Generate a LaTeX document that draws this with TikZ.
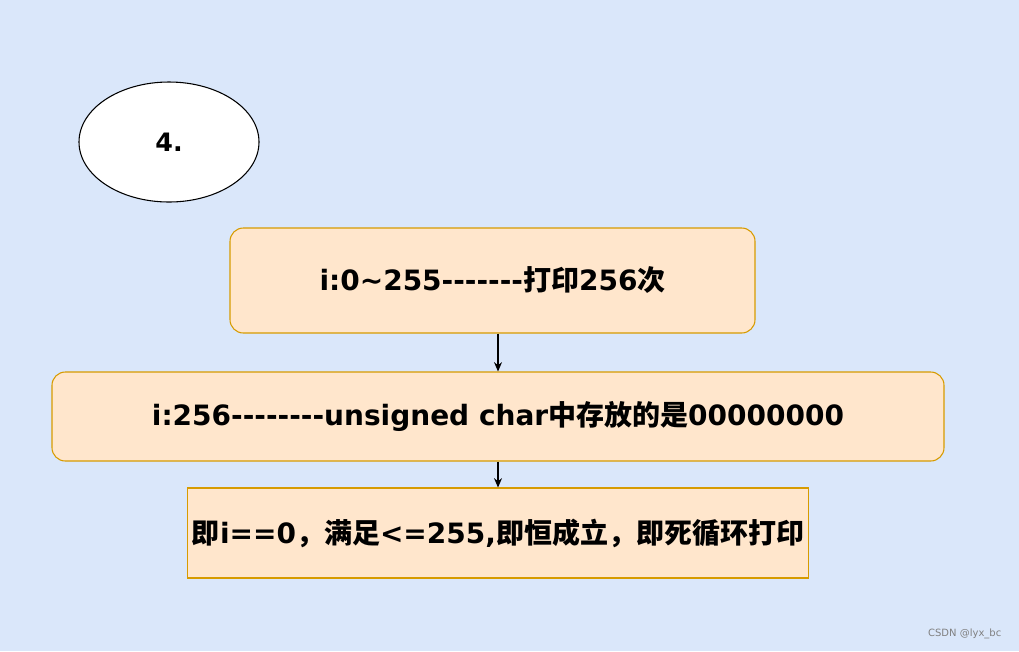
\documentclass[tikz,border=0pt]{standalone}
\usepackage{fontspec}
\setmainfont{DejaVu Sans}[Ligatures=NoCommon]
\newfontfamily\cjk{Noto Sans CJK SC}
\usetikzlibrary{shapes.geometric,arrows.meta}
\definecolor{bg}{HTML}{DAE7FA}
\definecolor{bfill}{HTML}{FFE6CC}
\definecolor{bdraw}{HTML}{D79B00}
\newcommand\hy{-{}}
\begin{document}
\begin{tikzpicture}[x=0.75pt,y=-0.75pt,
  box/.style={draw=bdraw,fill=bfill,line width=0.8pt,font=\fontsize{21}{24}\selectfont\bfseries},
  arr/.style={-{Stealth[length=7pt,width=6pt]},line width=0.8pt}]
\fill[bg] (0,0) rectangle (1019,651);
\useasboundingbox (0,0) rectangle (1019,651);
\node[ellipse,draw,fill=white,line width=0.8pt,minimum width=180*0.75pt,minimum height=120*0.75pt,font=\fontsize{19}{22}\selectfont\bfseries] (e) at (169,142) {4.};
\node[box,rounded corners=10pt,minimum width=525*0.75pt,minimum height=105*0.75pt] (b1) at (492.5,280.5) {i:0\char`\~255\hy\hy\hy\hy\hy\hy\hy{\cjk\bfseries 打印}256{\cjk\bfseries 次}};
\node[box,rounded corners=10pt,minimum width=892*0.75pt,minimum height=89*0.75pt] (b2) at (498,416.5) {i:256\hy\hy\hy\hy\hy\hy\hy\hy unsigned char{\cjk\bfseries 中存放的是}00000000};
\node[box,minimum width=616*0.75pt,minimum height=90*0.75pt] (b3) at (498,533) {{\cjk\bfseries 即}i==0{\cjk\bfseries ，满足}<=255,{\cjk\bfseries 即恒成立，即死循环打印}};
\draw[arr] (b1.south -| b2.north) -- (b2.north);
\draw[arr] (b2.south) -- (b3.north);
\node[text=gray,font=\fontsize{7.5}{9}\selectfont,anchor=east] (w) at (1006,634) {CSDN @lyx\_bc};
\end{tikzpicture}
\end{document}
